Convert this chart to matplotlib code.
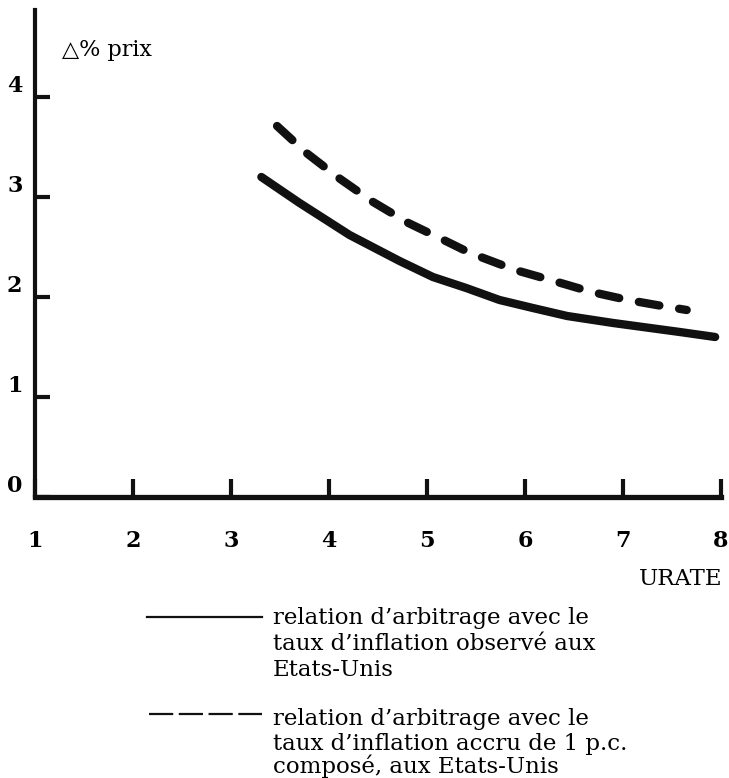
import numpy as np
import matplotlib
matplotlib.use('Agg')
import matplotlib.pyplot as plt
from matplotlib.lines import Line2D

# data
solid_x = [3.31, 3.70, 4.21, 4.72, 5.06, 5.40, 5.74, 6.08, 6.43, 6.90, 7.58, 7.94]
solid_y = [3.20, 2.94, 2.62, 2.36, 2.20, 2.09, 1.97, 1.89, 1.81, 1.74, 1.65, 1.60]

dash_x = [3.47, 3.77, 4.10, 4.45, 4.81, 5.17, 5.44, 5.90, 6.26, 6.68, 7.05, 7.40, 7.65]
dash_y = [3.71, 3.44, 3.19, 2.95, 2.74, 2.57, 2.44, 2.27, 2.17, 2.05, 1.97, 1.91, 1.87]

xticks = [1, 2, 3, 4, 5, 6, 7, 8]
yticks = [0, 1, 2, 3, 4]

legend_solid = ["relation d\u2019arbitrage avec le",
                "taux d\u2019inflation observ\u00e9 aux",
                "Etats-Unis"]
legend_dash = ["relation d\u2019arbitrage avec le",
               "taux d\u2019inflation accru de 1 p.c.",
               "compos\u00e9, aux Etats-Unis"]

plt.rcParams['font.family'] = ['DejaVu Serif']
ink = '#111111'

W, H = 729, 778
fig = plt.figure(figsize=(W/100, H/100), dpi=100)
ax = fig.add_axes([35/W, 1 - 497/H, (721-35)/W, (497-10)/H])

ax.plot(solid_x, solid_y, color=ink, lw=6, solid_capstyle='round', solid_joinstyle='round')
ax.plot(dash_x, dash_y, color=ink, lw=6, dashes=(2.5, 2.4), dash_capstyle='round', dash_joinstyle='round')

ax.set_xlim(1, 8)
ax.set_ylim(0, 4.87)
ax.spines['top'].set_visible(False)
ax.spines['right'].set_visible(False)
ax.spines['left'].set_linewidth(3)
ax.spines['bottom'].set_linewidth(3.8)
ax.spines['left'].set_color(ink)
ax.spines['bottom'].set_color(ink)

ax.set_xticks(xticks)
ax.set_yticks(yticks)
ax.set_xticklabels([str(v) for v in xticks], fontsize=16, fontweight='bold')
ax.set_yticklabels([str(v) for v in yticks], fontsize=16, fontweight='bold')
ax.tick_params(axis='x', direction='in', length=13, width=3, color=ink, pad=24)
ax.tick_params(axis='y', direction='in', length=11, width=3, color=ink, pad=9)
for lab in ax.get_yticklabels():
    lab.set_verticalalignment('bottom')

fig.text(62/W, 1 - 56/H, "\u25b3% prix", fontsize=16, ha='left', va='baseline')
fig.text(722/W, 1 - 585/H, "URATE", fontsize=16.5, ha='right', va='baseline')

# legend drawn by hand, like the printed key
fig.add_artist(Line2D([147/W, 262/W], [1 - 617/H, 1 - 617/H], color=ink, lw=1.6))
fig.add_artist(Line2D([149/W, 262/W], [1 - 714/H, 1 - 714/H], color=ink, lw=1.6, dashes=(10.9, 2.5)))
for txt, base in zip(legend_solid, [624, 650, 676]):
    fig.text(273/W, 1 - base/H, txt, fontsize=16.5, ha='left', va='baseline')
for txt, base in zip(legend_dash, [725, 750, 773]):
    fig.text(273/W, 1 - base/H, txt, fontsize=16.5, ha='left', va='baseline')

fig.savefig('out.png', dpi=100, facecolor='white')
